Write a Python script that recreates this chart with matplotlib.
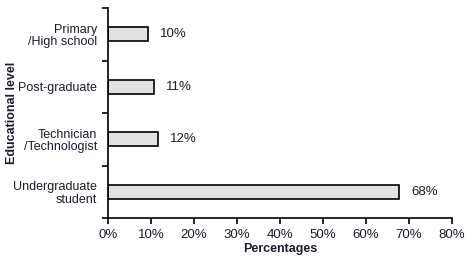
import matplotlib.pyplot as plt
from matplotlib.ticker import FuncFormatter

categories = ["Primary\n/High school", "Post-graduate", "Technician\n/Technologist", "Undergraduate\nstudent"]
values = [9.3, 10.7, 11.6, 67.7]
value_labels = ["10%", "11%", "12%", "68%"]

plt.rcParams['font.family'] = ['Liberation Sans', 'DejaVu Sans']
plt.rcParams['font.size'] = 9
txt_color = '#1c1c2a'

fig = plt.figure(figsize=(4.69, 2.64), dpi=100)
ax = fig.add_axes([108/469, 1 - 218/264, (452 - 108)/469, (218 - 8)/264])

y = list(range(len(categories)))
ax.barh(y, values, height=0.27, color='#e2e2e2', edgecolor='black', linewidth=1.2)
for yi, v, lab in zip(y, values, value_labels):
    ax.annotate(lab, (v, yi), xytext=(12, 0), textcoords='offset pixels',
                va='center', ha='left', color=txt_color, fontsize=9.5)

ax.set_ylim(3.5, -0.5)
ax.set_xlim(0, 80)
ax.set_yticks(y)
ax.set_yticklabels(categories, color=txt_color, linespacing=1.05)
ax.set_yticks([-0.5, 0.5, 1.5, 2.5, 3.5], minor=True)
ax.tick_params(axis='y', which='major', length=0, pad=8)
ax.tick_params(axis='y', which='minor', length=4, width=1.2)
ax.set_xticks(range(0, 81, 10))
ax.xaxis.set_major_formatter(FuncFormatter(lambda x, p: f"{x:.0f}%"))
ax.tick_params(axis='x', length=4, width=1.2, labelcolor=txt_color, labelsize=9.5, pad=4)
for s in ['top', 'right']:
    ax.spines[s].set_visible(False)
for s in ['left', 'bottom']:
    ax.spines[s].set_linewidth(1.2)

ax.set_xlabel("Percentages", fontweight='bold', color=txt_color, fontsize=9)
ax.set_ylabel("Educational level", fontweight='bold', color=txt_color, fontsize=9)
ax.yaxis.set_label_coords(-0.262, 0.5)
ax.xaxis.set_label_coords(0.5, -0.12)

fig.savefig("out.png", dpi=100)
